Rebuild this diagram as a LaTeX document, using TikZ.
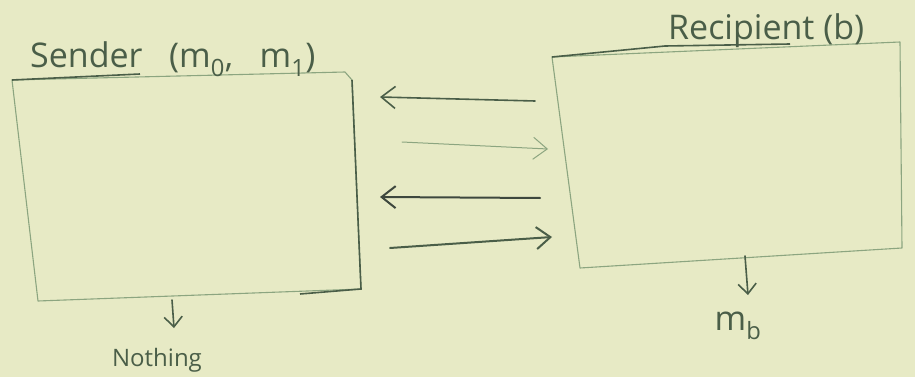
\documentclass[tikz,border=0pt]{standalone}
\usepackage{fontspec}
\setmainfont{Open Sans}
\usetikzlibrary{arrows.meta}
\definecolor{paper}{RGB}{231,234,197}
\definecolor{ink}{RGB}{74,94,72}
\definecolor{inkdark}{RGB}{62,72,62}
\definecolor{inklight}{RGB}{140,165,128}
\tikzset{
  box/.style={draw=inklight, line width=1.1pt, line join=round},
  caption/.style={text=ink, font=\fontsize{34}{36}\selectfont, inner sep=0pt},
  smallcaption/.style={text=ink, font=\fontsize{24}{26}\selectfont, inner sep=0pt},
  msg/.style={-{Straight Barb[length=14pt, width=22pt]}, line width=1.6pt, line cap=round},
  outarrow/.style={-{Straight Barb[length=10pt, width=18pt]}, draw=ink, line width=1.6pt, line cap=round},
}
\begin{document}
\begin{tikzpicture}[x=1pt, y=-1pt]
  \fill[paper] (0,0) rectangle (915,377);
  \useasboundingbox (0,0) rectangle (915,377);

  % sender box corners
  \coordinate (s1) at (12,80);
  \coordinate (s2) at (345,72);
  \coordinate (s3) at (352,80);
  \coordinate (s4) at (361,289);
  \coordinate (s5) at (38,301);
  \draw[box] (s1) -- (s2) -- (s3) -- (s4) -- (s5) -- cycle;
  \draw[draw=ink, line width=1.6pt] (s1) -- (140,74);
  \draw[draw=ink, line width=1.6pt] (s3) -- (s4) -- (300,294);

  % recipient box corners
  \coordinate (r1) at (552,57);
  \coordinate (r2) at (900,42);
  \coordinate (r3) at (902,248);
  \coordinate (r4) at (580,268);
  \draw[box] (r1) -- (r2) -- (r3) -- (r4) -- cycle;
  \draw[draw=ink, line width=1.6pt] (r1) -- (665,46) -- (790,44);

  % titles
  \node[caption, anchor=base west] (sname) at (30,68) {Sender\ \ \ (m\textsubscript{0},\ \ \ m\textsubscript{1})};
  \node[caption, anchor=base west] (rname) at (668,40) {Recipient\ (b)};

  % protocol messages
  \coordinate (a1s) at (535,101); \coordinate (a1e) at (380,97);
  \coordinate (a2s) at (402,142); \coordinate (a2e) at (548,149);
  \coordinate (a3s) at (540,198); \coordinate (a3e) at (380,197);
  \coordinate (a4s) at (390,248); \coordinate (a4e) at (552,237);
  \draw[msg, draw=ink] (a1s) -- (a1e);
  \draw[msg, draw=inklight, line width=1pt] (a2s) -- (a2e);
  \draw[msg, draw=inkdark, line width=2pt] (a3s) -- (a3e);
  \draw[msg, draw=ink, line width=2pt] (a4s) -- (a4e);

  % outputs
  \node[smallcaption, anchor=base] (snout) at (157,366) {Nothing};
  \node[caption, anchor=base] (rnout) at (738,330) {m\textsubscript{b}};
  \coordinate (so) at (172,300);
  \coordinate (ro) at (745,256);
  \draw[outarrow] (so) -- (174,328);
  \draw[outarrow] (ro) -- (748,295);
\end{tikzpicture}
\end{document}
